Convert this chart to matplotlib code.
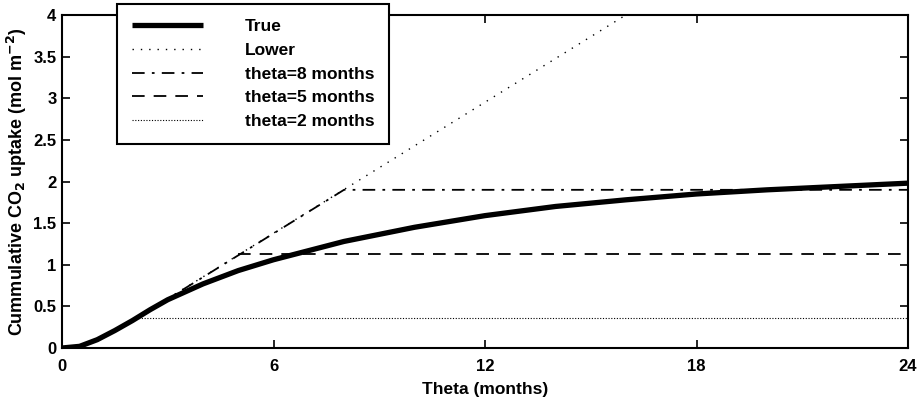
import matplotlib
matplotlib.use("Agg")
import matplotlib.pyplot as plt
import numpy as np

plt.rcParams['font.family'] = ['Liberation Sans', 'DejaVu Sans']

# ---- data ----
months_true = [0, 0.5, 1, 1.5, 2, 2.5, 3, 4, 5, 6, 7, 8, 10, 12, 14, 16, 18, 20, 22, 24]
uptake_true = [0, 0.02, 0.10, 0.21, 0.33, 0.46, 0.58, 0.77, 0.93, 1.06, 1.17, 1.28,
               1.45, 1.59, 1.70, 1.78, 1.85, 1.90, 1.94, 1.98]

lower_x = [2.0, 16.3]
lower_y = [0.33, 4.08]

theta8_x = [2.7, 8, 24]
theta8_y = [0.51, 1.90, 1.90]
theta5_x = [5, 24]
theta5_y = [1.13, 1.13]
theta2_x = [2, 24]
theta2_y = [0.36, 0.36]

xticks = [0, 6, 12, 18, 24]
yticks = [0, 0.5, 1, 1.5, 2, 2.5, 3, 3.5, 4]
ytick_labels = ['0', '0.5', '1', '1.5', '2', '2.5', '3', '3.5', '4']

# ---- figure ----
fig = plt.figure(figsize=(9.22, 4.05), dpi=100)
ax = fig.add_axes([62/922, 1-348/405, (908-62)/922, (348-15)/405])

l_true, = ax.plot(months_true, uptake_true, color='black', lw=3.8, solid_capstyle='butt', label='True', zorder=5)
l_low, = ax.plot(lower_x, lower_y, color='black', lw=1.0, linestyle=(0, (1, 5)), label='Lower')
l_t8, = ax.plot(theta8_x, theta8_y, color='black', lw=1.3, linestyle=(0, (7, 4, 1.5, 4)), label='theta=8 months')
l_t5, = ax.plot(theta5_x, theta5_y, color='black', lw=1.3, linestyle=(0, (7, 5)), label='theta=5 months')
l_t2, = ax.plot(theta2_x, theta2_y, color='black', lw=0.8, linestyle=(0, (1, 1.5)), label='theta=2 months')

ax.set_xlim(0, 24)
ax.set_ylim(0, 4)
ax.set_xticks(xticks)
ax.set_xticklabels([str(t) for t in xticks], fontsize=12, fontweight='bold')
ax.set_yticks(yticks)
ax.set_yticklabels(ytick_labels, fontsize=12, fontweight='bold')
ax.tick_params(axis='x', direction='in', length=6, width=1.2, top=True, pad=8)
ax.tick_params(axis='y', direction='in', length=6, width=1.2, right=True, pad=4)
for s in ax.spines.values():
    s.set_linewidth(1.5)

ax.set_xlabel('Theta (months)', fontsize=12.5, fontweight='bold', labelpad=6)
ax.set_ylabel(r'Cummulative CO$_\mathbf{2}$ uptake (mol m$^{\mathbf{-2}}$)', fontsize=13,
              fontweight='bold', labelpad=3)

leg = fig.legend(handles=[l_true, l_low, l_t8, l_t5, l_t2], loc='upper left',
                 bbox_to_anchor=(117/922, 1-4/405), fancybox=False, framealpha=1,
                 edgecolor='black', fontsize=12.5, handlelength=4.1, handletextpad=2.4,
                 labelspacing=0.5, borderpad=0.85, borderaxespad=0)
leg.get_frame().set_linewidth(1.5)
for t in leg.get_texts():
    t.set_fontweight('bold')

fig.savefig('out.png', dpi=100)
